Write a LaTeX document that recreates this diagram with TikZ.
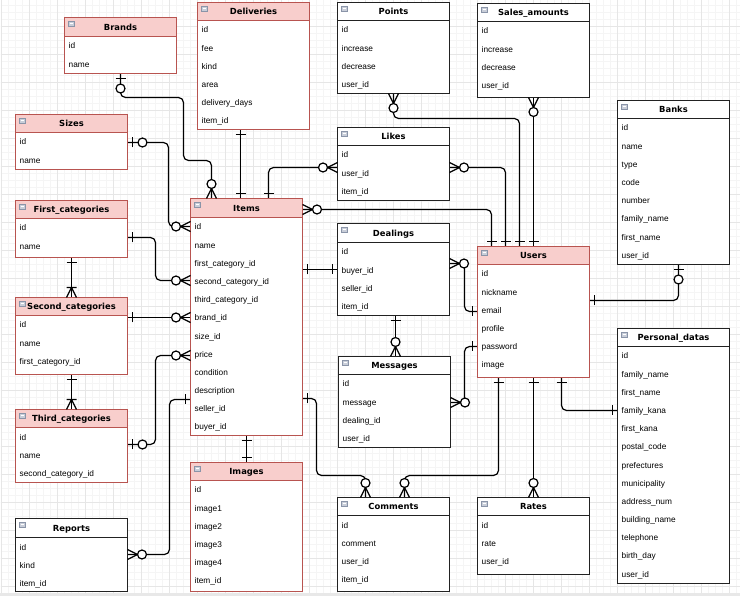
\documentclass[tikz,border=0pt]{standalone}
\usepackage{fontspec}
\setmainfont{Liberation Sans}
\newfontfamily\titlefont{DejaVu Sans}
\definecolor{pinkfill}{HTML}{F8CECC}
\definecolor{pinkdraw}{HTML}{B85450}
\definecolor{gridmajor}{HTML}{E6E6E6}
\definecolor{gridminor}{HTML}{F5F5F5}
\definecolor{plaindraw}{HTML}{222222}
\definecolor{icondraw}{HTML}{8A94A8}
\definecolor{iconfill}{HTML}{C9CED9}
\definecolor{bandgray}{HTML}{E8E8E8}
\tikzset{
 tbody/.style={draw, fill=white, inner sep=0pt, outer sep=0pt, minimum width=112pt, line width=1pt, anchor=north west},
 thead/.style={draw, inner sep=0pt, outer sep=0pt, minimum width=112pt, line width=1pt, anchor=north west},
 pinkt/.style={draw=pinkdraw},
 pinkh/.style={draw=pinkdraw, fill=pinkfill},
 plaint/.style={draw=plaindraw},
 plainh/.style={draw=plaindraw, fill=white},
 ttl/.style={font=\titlefont\bfseries\fontsize{8.4}{10}\selectfont, inner sep=0pt, anchor=base},
 rowtxt/.style={font=\fontsize{8.3}{10}\selectfont, inner sep=0pt, anchor=base west},
 conn/.style={line width=1.2pt, rounded corners=5pt},
 mk/.style={line width=1.2pt},
}
\newcommand\ertable[8]{%
 \pgfmathsetmacro\tabh{#5-#3}%
 \pgfmathsetmacro\hedh{#4-#3}%
 \node[tbody,#6t,minimum height=\tabh pt] (#1) at (#2,#3) {};
 \node[thead,#6h,minimum height=\hedh pt] (#1-h) at (#2,#3) {};
 \node[ttl] (#1-t) at ({#2+56},{#4-6}) {#7};
 \draw[icondraw, fill=iconfill, line width=0.5pt] ({#2+3.5},{#3+3.5}) rectangle ({#2+9.5},{#3+8.5});
 \draw[white, line width=0.6pt] ({#2+5},{#3+6}) -- ({#2+8},{#3+6});
 \foreach \r [count=\i] in {#8} {\node[rowtxt] (#1-\i) at ({#2+4},{#4+12.5+(\i-1)*18.18}) {\r};}
}
\newcommand\mone[2]{\draw[mk,shift={(#1)},rotate=#2] (5pt,-5pt)--(5pt,5pt);}
\newcommand\mzo[2]{\draw[mk,shift={(#1)},rotate=#2] (5pt,-5pt)--(5pt,5pt);
 \draw[mk,fill=white,shift={(#1)},rotate=#2] (15pt,0pt) circle[radius=4.5pt];}
\newcommand\mzm[2]{\draw[mk,shift={(#1)},rotate=#2] (0pt,-5pt)--(10pt,0pt)--(0pt,5pt);
 \draw[mk,fill=white,shift={(#1)},rotate=#2] (14.5pt,0pt) circle[radius=4.5pt];}
\newcommand\mom[2]{\draw[mk,shift={(#1)},rotate=#2] (0pt,-5pt)--(10pt,0pt)--(0pt,5pt) (10pt,-5pt)--(10pt,5pt);}
\begin{document}
\begin{tikzpicture}[x=1pt,y=-1pt]
\useasboundingbox (0,0) rectangle (740,596);
\fill[white] (0,0) rectangle (740,596);
\begin{scope}[shift={(0.5pt,-0.5pt)}]
% grid
\foreach \gx in {1,8,...,736} \draw[gridminor,line width=0.6pt] (\gx,0) -- (\gx,596);
\foreach \gy in {5,12,...,593} \draw[gridminor,line width=0.6pt] (0,\gy) -- (740,\gy);
\foreach \gx in {1,29,...,729} \draw[gridmajor,line width=0.8pt] (\gx,0) -- (\gx,596);
\foreach \gy in {26,54,...,586} \draw[gridmajor,line width=0.8pt] (0,\gy) -- (740,\gy);
\end{scope}
\fill[bandgray] (0,593) rectangle (740,596);
\begin{scope}[shift={(0.5pt,-0.5pt)}]
% endpoints
\coordinate (brB) at (120,73);  \coordinate (itT1) at (211,198);
\coordinate (dlB) at (240,129); \coordinate (itT2) at (240,198);
\coordinate (szR) at (127,142); \coordinate (itL1) at (190,226);
\coordinate (fcR) at (127,237); \coordinate (itL2) at (190,280);
\coordinate (fcB) at (71,257);  \coordinate (scT) at (71,297);
\coordinate (scR) at (127,317); \coordinate (itL3) at (190,317);
\coordinate (scB) at (71,374);  \coordinate (tcT) at (71,409);
\coordinate (tcR) at (127,444); \coordinate (itL4) at (190,355);
\coordinate (rpR) at (127,554); \coordinate (itL5) at (190,399);
\coordinate (itB) at (246,435); \coordinate (imT) at (246,462);
\coordinate (itR1) at (302,398); \coordinate (cmT1) at (365,497);
\coordinate (usB1) at (498,377); \coordinate (cmT2) at (404,497);
\coordinate (usB2) at (533,377); \coordinate (rtT) at (533,497);
\coordinate (usB3) at (561,377); \coordinate (pdL) at (617,410);
\coordinate (bkB) at (678,264); \coordinate (usR) at (589,300);
\coordinate (ptB) at (393,93);  \coordinate (usT3) at (519,246);
\coordinate (saB) at (533,97);  \coordinate (usT4) at (533,246);
\coordinate (lkR) at (449,167); \coordinate (usT2) at (505,246);
\coordinate (lkL) at (337,167); \coordinate (itT3) at (268,198);
\coordinate (itR0) at (302,209); \coordinate (usT1) at (491,246);
\coordinate (itR2) at (302,269); \coordinate (dgL) at (337,269);
\coordinate (dgR) at (449,263); \coordinate (usL1) at (477,311);
\coordinate (dgB) at (395,315); \coordinate (msT) at (395,356);
\coordinate (msR) at (450,402); \coordinate (usL2) at (477,346);

% connectors
\draw[conn] (brB) -- (120,97) -- (183,97) -- (183,160) -- (211,160) -- (itT1);
\draw[conn] (dlB) -- (itT2);
\draw[conn] (szR) -- (168,142) -- (168,226) -- (itL1);
\draw[conn] (fcR) -- (155,237) -- (155,280) -- (itL2);
\draw[conn] (fcB) -- (scT);
\draw[conn] (scR) -- (itL3);
\draw[conn] (scB) -- (tcT);
\draw[conn] (tcR) -- (155,444) -- (155,355) -- (itL4);
\draw[conn] (rpR) -- (169,554) -- (169,399) -- (itL5);
\draw[conn] (itB) -- (imT);
\draw[conn] (itR1) -- (316,398) -- (316,475) -- (365,475) -- (cmT1);
\draw[conn] (usB1) -- (498,475) -- (404,475) -- (cmT2);
\draw[conn] (usB2) -- (rtT);
\draw[conn] (usB3) -- (561,410) -- (pdL);
\draw[conn] (bkB) -- (678,300) -- (usR);
\draw[conn] (ptB) -- (393,118) -- (519,118) -- (usT3);
\draw[conn] (saB) -- (usT4);
\draw[conn] (lkR) -- (505,167) -- (usT2);
\draw[conn] (lkL) -- (268,167) -- (itT3);
\draw[conn] (itR0) -- (491,209) -- (usT1);
\draw[conn] (itR2) -- (dgL);
\draw[conn] (dgR) -- (464,263) -- (464,311) -- (usL1);
\draw[conn] (dgB) -- (msT);
\draw[conn] (msR) -- (464,402) -- (464,346) -- (usL2);

% tables
\ertable{brands}{64}{17}{36}{73}{pink}{Brands}{id,name}
\ertable{deliveries}{197}{2}{20}{129}{pink}{Deliveries}{id,fee,kind,area,delivery\_days,item\_id}
\ertable{sizes}{15}{114}{132}{169}{pink}{Sizes}{id,name}
\ertable{points}{337}{2}{20}{93}{plain}{Points}{id,increase,decrease,user\_id}
\ertable{sales}{477}{3}{21}{97}{plain}{Sales\_amounts}{id,increase,decrease,user\_id}
\ertable{banks}{617}{100}{118}{264}{plain}{Banks}{id,name,type,code,number,family\_name,first\_name,user\_id}
\ertable{likes}{337}{127}{145}{200}{plain}{Likes}{id,user\_id,item\_id}
\ertable{items}{190}{198}{217}{435}{pink}{Items}{id,name,first\_category\_id,second\_category\_id,third\_category\_id,brand\_id,size\_id,price,condition,description,seller\_id,buyer\_id}
\ertable{firstc}{15}{200}{218}{257}{pink}{First\_categories}{id,name}
\ertable{secondc}{15}{297}{315}{374}{pink}{Second\_categories}{id,name,first\_category\_id}
\ertable{thirdc}{15}{409}{427}{482}{pink}{Third\_categories}{id,name,second\_category\_id}
\ertable{reports}{15}{518}{537}{591}{plain}{Reports}{id,kind,item\_id}
\ertable{images}{190}{462}{480}{591}{pink}{Images}{id,image1,image2,image3,image4,item\_id}
\ertable{dealings}{337}{223}{242}{315}{plain}{Dealings}{id,buyer\_id,seller\_id,item\_id}
\ertable{users}{477}{246}{264}{377}{pink}{Users}{id,nickname,email,profile,password,image}
\ertable{messages}{338}{356}{374}{447}{plain}{Messages}{id,message,dealing\_id,user\_id}
\ertable{personal}{617}{328}{346}{583}{plain}{Personal\_datas}{id,family\_name,first\_name,family\_kana,first\_kana,postal\_code,prefectures,municipality,address\_num,building\_name,telephone,birth\_day,user\_id}
\ertable{comments}{337}{497}{515}{591}{plain}{Comments}{id,comment,user\_id,item\_id}
\ertable{rates}{477}{497}{515}{574}{plain}{Rates}{id,rate,user\_id}

% markers
\mzo{brB}{270} \mzm{itT1}{90}
\mone{dlB}{270} \mone{itT2}{90}
\mzo{szR}{0} \mzm{itL1}{180}
\mone{fcR}{0} \mzm{itL2}{180}
\mone{fcB}{270} \mom{scT}{90}
\mone{scR}{0} \mzm{itL3}{180}
\mone{scB}{270} \mom{tcT}{90}
\mzo{tcR}{0} \mzm{itL4}{180}
\mzm{rpR}{0} \mone{itL5}{180}
\mone{itB}{270} \mone{imT}{90}
\mone{itR1}{0} \mzm{cmT1}{90}
\mone{usB1}{270} \mzm{cmT2}{90}
\mone{usB2}{270} \mzm{rtT}{90}
\mone{usB3}{270} \mone{pdL}{180}
\mzo{bkB}{270} \mone{usR}{0}
\mzm{ptB}{270} \mone{usT3}{90}
\mzm{saB}{270} \mone{usT4}{90}
\mzm{lkR}{0} \mone{usT2}{90}
\mzm{lkL}{180} \mone{itT3}{90}
\mzm{itR0}{0} \mone{usT1}{90}
\mone{itR2}{0} \mone{dgL}{180}
\mzm{dgR}{0} \mone{usL1}{180}
\mone{dgB}{270} \mzm{msT}{90}
\mzm{msR}{0} \mone{usL2}{180}
\end{scope}
\end{tikzpicture}
\end{document}
